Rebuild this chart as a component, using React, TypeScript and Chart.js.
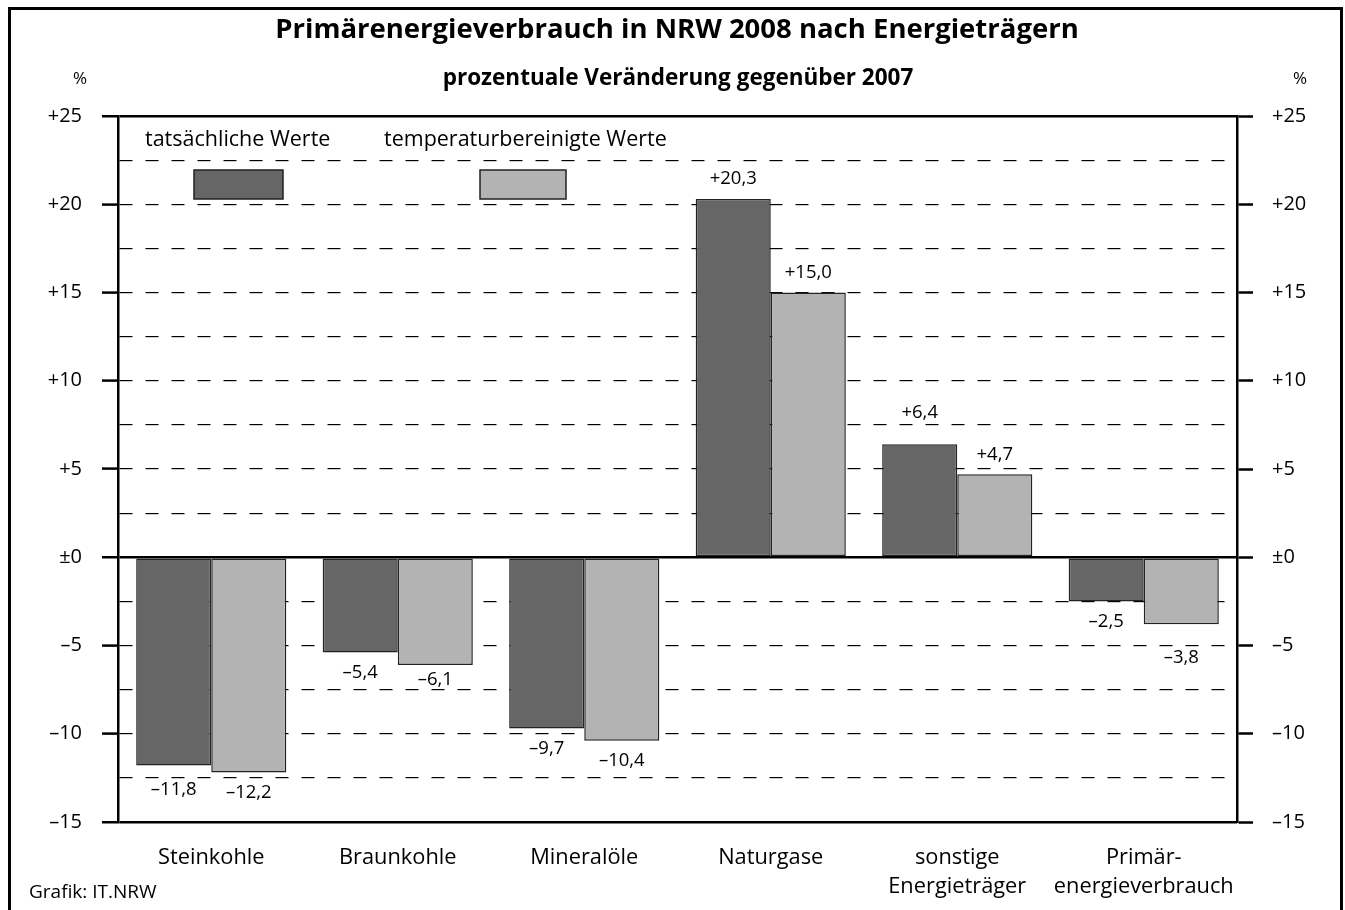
import React, { useEffect, useRef } from 'react';
import { Chart, registerables } from 'chart.js';

Chart.register(...registerables);

const titleText = 'Primärenergieverbrauch in NRW 2008 nach Energieträgern';
const subtitleText = 'prozentuale Veränderung gegenüber 2007';
const unitText = '%';
const sourceText = 'Grafik: IT.NRW';

const categories: string[][] = [
  ['Steinkohle'],
  ['Braunkohle'],
  ['Mineralöle'],
  ['Naturgase'],
  ['sonstige', 'Energieträger'],
  ['Primär-', 'energieverbrauch'],
];
const seriesNames = ['tatsächliche Werte', 'temperaturbereinigte Werte'];
const actualValues = [-11.8, -5.4, -9.7, 20.3, 6.4, -2.5];
const adjustedValues = [-12.2, -6.1, -10.4, 15.0, 4.7, -3.8];
const seriesColors = ['#666666', '#b3b3b3'];

const yMin = -15;
const yMax = 25;
const yStep = 2.5;
const yLabelStep = 5;

const FONT = '"Open Sans", "DejaVu Sans", sans-serif';

function fmtTick(v: number): string {
  if (v === 0) return '±0';
  if (v > 0) return '+' + v;
  return '–' + Math.abs(v);
}
function fmtValue(v: number): string {
  const s = Math.abs(v).toFixed(1).replace('.', ',');
  return (v >= 0 ? '+' : '–') + s;
}
function isMajor(v: number): boolean {
  return Math.abs(v / yLabelStep - Math.round(v / yLabelStep)) < 1e-6;
}
function isSolid(v: number): boolean {
  return v === 0 || v === yMin || v === yMax;
}

// place a value label next to a bar end, nudging it off dashed grid lines
function placeLabel(edge: number, dir: number, gridYs: number[]): number {
  const gap = 20;
  const minGap = 13;
  const clear = 10;
  let y = edge + dir * gap;
  const hit = gridYs.find((g) => Math.abs(g - y) < clear);
  if (hit === undefined) return y;
  const toward = hit - dir * clear;
  if ((toward - edge) * dir >= minGap) return toward;
  return hit + dir * (clear + 2);
}

const decorPlugin = {
  id: 'decor',
  beforeDraw(chart: any) {
    const ctx = chart.ctx;
    ctx.save();
    ctx.fillStyle = '#ffffff';
    ctx.fillRect(0, 0, chart.width, chart.height);
    ctx.restore();
  },
  afterDraw(chart: any) {
    const ctx = chart.ctx;
    ctx.save();
    // outer frame
    ctx.strokeStyle = '#000';
    ctx.lineWidth = 3;
    ctx.beginPath();
    ctx.moveTo(9.5, chart.height + 5);
    ctx.lineTo(9.5, 8.5);
    ctx.lineTo(1341.5, 8.5);
    ctx.lineTo(1341.5, chart.height + 5);
    ctx.stroke();

    ctx.fillStyle = '#000';
    ctx.textBaseline = 'middle';
    ctx.textAlign = 'center';
    ctx.font = `bold 27.5px ${FONT}`;
    ctx.fillText(titleText, 677, 30);
    ctx.font = `bold 22.5px ${FONT}`;
    ctx.fillText(subtitleText, 678, 79);
    ctx.font = `17px ${FONT}`;
    ctx.fillText(unitText, 80, 79);
    ctx.fillText(unitText, 1300, 79);

    ctx.textAlign = 'left';
    ctx.font = `19px ${FONT}`;
    ctx.fillText(sourceText, 29, 893);

    // legend
    ctx.font = `21.5px ${FONT}`;
    const legendText = [145, 384];
    const legendBox = [
      [194, 170, 89, 29],
      [480, 170, 86, 29],
    ];
    seriesNames.forEach((name, i) => {
      ctx.fillStyle = '#000';
      ctx.fillText(name, legendText[i], 140);
      const [bx, by, bw, bh] = legendBox[i];
      ctx.fillStyle = seriesColors[i];
      ctx.fillRect(bx, by, bw, bh);
      ctx.strokeStyle = '#222';
      ctx.lineWidth = 1.5;
      ctx.strokeRect(bx, by, bw, bh);
    });

    // value labels
    const yScale = chart.scales.y;
    const gridYs = yScale.ticks
      .filter((t: any) => !isSolid(t.value))
      .map((t: any) => yScale.getPixelForValue(t.value));
    ctx.font = `18.5px ${FONT}`;
    ctx.fillStyle = '#000';
    ctx.textAlign = 'center';
    chart.data.datasets.forEach((ds: any, di: number) => {
      const meta = chart.getDatasetMeta(di);
      meta.data.forEach((bar: any, i: number) => {
        const v = ds.data[i];
        const y = placeLabel(bar.y, v >= 0 ? -1 : 1, gridYs);
        ctx.fillText(fmtValue(v), bar.x, y);
      });
    });
    ctx.restore();
  },
};

const gridColor = (c: any) => '#000';
const gridWidth = (c: any) => (c.tick && isSolid(c.tick.value) ? 2.5 : 1.2);
const tickColor = (c: any) => (c.tick && isMajor(c.tick.value) ? '#000' : 'rgba(0,0,0,0)');
const gridDash = (c: any) => (c.tick && !isSolid(c.tick.value) ? [13, 13] : []);

export default function App() {
  const ref = useRef<HTMLCanvasElement>(null);
  useEffect(() => {
    if (!ref.current) return;
    const tickFont = { family: FONT, size: 20 };
    const chart = new Chart(ref.current, {
      type: 'bar',
      data: {
        labels: categories,
        datasets: [
          {
            label: seriesNames[0],
            data: actualValues,
            backgroundColor: seriesColors[0],
            borderColor: '#222',
            borderWidth: 1.5,
            borderSkipped: false,
            categoryPercentage: 0.805,
            barPercentage: 1.0,
            yAxisID: 'y',
          },
          {
            label: seriesNames[1],
            data: adjustedValues,
            backgroundColor: seriesColors[1],
            borderColor: '#222',
            borderWidth: 1.5,
            borderSkipped: false,
            categoryPercentage: 0.805,
            barPercentage: 1.0,
            yAxisID: 'y',
          },
        ],
      },
      options: {
        responsive: false,
        animation: false,
        devicePixelRatio: 1,
        layout: { padding: { top: 116, left: 0, right: 0, bottom: 0 } },
        plugins: {
          legend: { display: false },
          title: { display: false },
          tooltip: { enabled: false },
        },
        scales: {
          x: {
            grid: { display: false, drawTicks: false, tickLength: 0 },
            border: { display: false },
            ticks: {
              color: '#000',
              font: { family: FONT, size: 21.8, lineHeight: 1.35 },
              padding: 21,
              maxRotation: 0,
              autoSkip: false,
            },
            afterFit: (s: any) => {
              s.height = 88;
            },
          },
          y: {
            position: 'left',
            min: yMin,
            max: yMax,
            ticks: {
              stepSize: yStep,
              autoSkip: false,
              color: '#000',
              font: tickFont,
              padding: 20,
              callback: (v: any) => (isMajor(Number(v)) ? fmtTick(Number(v)) : ''),
            },
            grid: {
              color: gridColor,
              lineWidth: gridWidth,
              tickColor: tickColor,
              tickLength: 16,
              tickWidth: 2.5,
            },
            border: { display: true, color: '#000', width: 2.5, dash: gridDash },
            afterFit: (s: any) => {
              s.width = 118;
            },
          },
          y2: {
            position: 'right',
            min: yMin,
            max: yMax,
            ticks: {
              stepSize: yStep,
              autoSkip: false,
              color: '#000',
              font: tickFont,
              padding: 19,
              callback: (v: any) => (isMajor(Number(v)) ? fmtTick(Number(v)) : ''),
            },
            grid: {
              drawOnChartArea: false,
              tickColor: tickColor,
              tickLength: 16,
              tickWidth: 2.5,
            },
            border: { display: true, color: '#000', width: 2.5 },
            afterFit: (s: any) => {
              s.width = 108;
            },
          },
        },
      } as any,
      plugins: [decorPlugin],
    });
    return () => chart.destroy();
  }, []);
  return (
    <div style={{ position: 'absolute', left: 0, top: 0, width: 1345, height: 910 }}>
      <canvas ref={ref} width={1345} height={910} style={{ display: 'block', width: 1345, height: 910 }} />
    </div>
  );
}
